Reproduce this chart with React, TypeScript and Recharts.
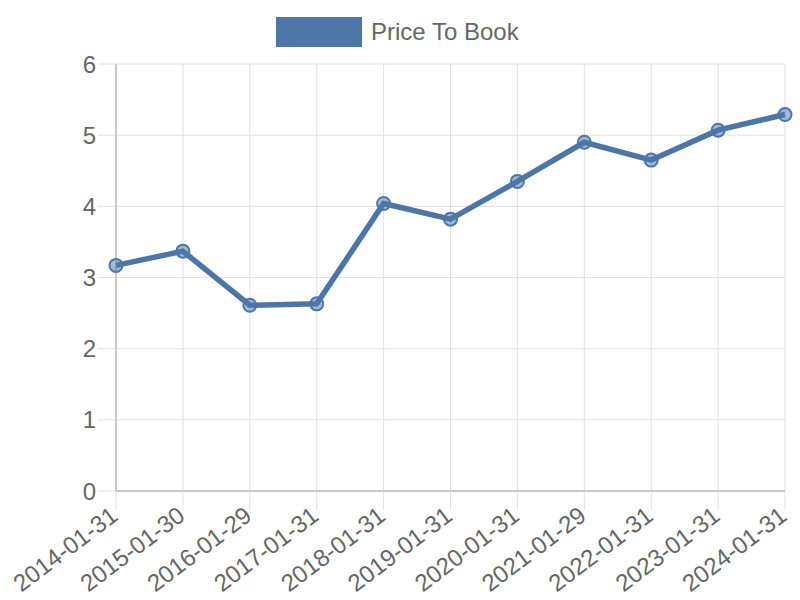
import React from "react";
import { CartesianGrid, Legend, Line, LineChart, XAxis, YAxis } from "recharts";

const dates = [
  "2014-01-31",
  "2015-01-30",
  "2016-01-29",
  "2017-01-31",
  "2018-01-31",
  "2019-01-31",
  "2020-01-31",
  "2021-01-29",
  "2022-01-31",
  "2023-01-31",
  "2024-01-31",
];
const priceToBook = [3.17, 3.37, 2.61, 2.63, 4.04, 3.82, 4.35, 4.9, 4.65, 5.07, 5.29];
const yTicks = [0, 1, 2, 3, 4, 5, 6];

const data = dates.map((date, i) => ({ date, value: priceToBook[i] }));

const BLUE = "#4b76a7";
const FONT = "'Liberation Sans', Arial, sans-serif";

// rotated date labels, right end hanging under the tick
const DateTick = (props: any) => {
  const { x, y, payload } = props;
  return (
    <g transform={`translate(${x - 7},${y - 7})`}>
      <text
        x={0}
        y={0}
        dy="0.72em"
        textAnchor="end"
        transform="rotate(-37)"
        fill="#666"
        fontSize={24}
        fontFamily={FONT}
      >
        {payload.value}
      </text>
    </g>
  );
};

const LegendBox = () => (
  <div
    style={{
      height: 50,
      display: "flex",
      alignItems: "flex-start",
      paddingTop: 3,
      paddingLeft: 276,
      boxSizing: "border-box",
      fontFamily: FONT,
    }}
  >
    <span style={{ width: 86, height: 30, background: BLUE, display: "inline-block", marginRight: 9 }} />
    <span style={{ fontSize: 24, color: "#666", lineHeight: "30px" }}>Price To Book</span>
  </div>
);

export default function App() {
  return (
    <div style={{ position: "absolute", left: 0, top: 0 }}>
      <LineChart width={800} height={600} data={data} margin={{ top: 14, right: 15, left: 0, bottom: 0 }}>
        <Legend verticalAlign="top" content={<LegendBox />} />
        <CartesianGrid stroke="#e0e0e0" strokeWidth={1} />
        <XAxis
          dataKey="date"
          height={109}
          interval={0}
          stroke="#a0a0a0"
          tickSize={19}
          tickMargin={2}
          tickLine={{ stroke: "#e0e0e0" }}
          tick={<DateTick />}
        />
        <YAxis
          width={116}
          domain={[0, 6]}
          ticks={yTicks}
          stroke="#a0a0a0"
          tickSize={18}
          tickMargin={2}
          tickLine={{ stroke: "#e0e0e0" }}
          tick={{ fill: "#666", fontSize: 24, fontFamily: FONT }}
        />
        <Line
          dataKey="value"
          stroke={BLUE}
          strokeWidth={5.5}
          dot={{ r: 6.5, fill: "rgba(75,118,167,0.5)", stroke: BLUE, strokeWidth: 2 }}
          isAnimationActive={false}
        />
      </LineChart>
    </div>
  );
}
